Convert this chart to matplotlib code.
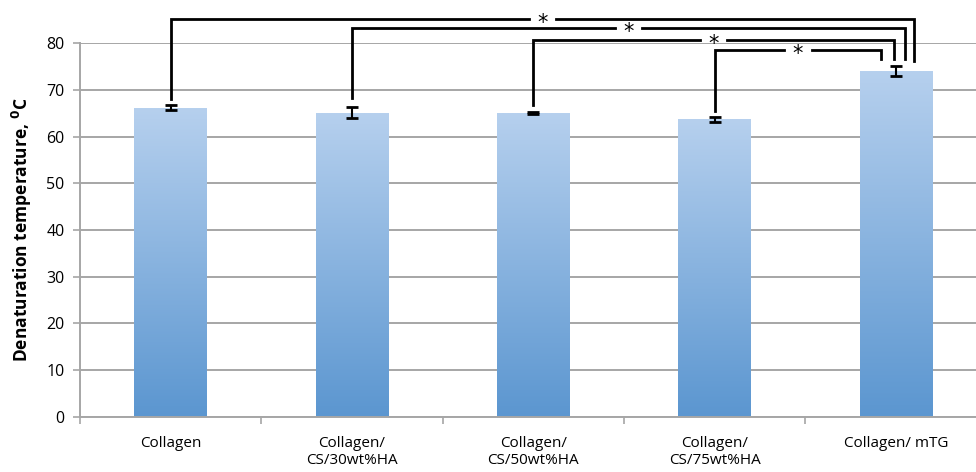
import numpy as np
import matplotlib.pyplot as plt
from matplotlib.colors import LinearSegmentedColormap

plt.rcParams['font.family'] = ['Open Sans', 'DejaVu Sans']

categories = ["Collagen", "Collagen/\nCS/30wt%HA", "Collagen/\nCS/50wt%HA",
              "Collagen/\nCS/75wt%HA", "Collagen/ mTG"]
means = [66.2, 65.1, 65.1, 63.7, 74.1]
errors = [0.5, 1.2, 0.2, 0.6, 1.1]
y_ticks = [0, 10, 20, 30, 40, 50, 60, 70, 80]

# significance brackets: (left group, right group, bracket height, left leg bottom, right leg bottom)
brackets = [
    (0, 4, 85.2, 68.0, 76.3),
    (1, 4, 83.2, 68.2, 76.6),
    (2, 4, 80.6, 66.8, 76.6),
    (3, 4, 78.6, 65.6, 76.6),
]
right_offsets = [0.10, 0.05, -0.01, -0.08]
star_gap = 0.075

fig = plt.figure(figsize=(9.76, 4.72), dpi=100)
ax = fig.add_axes([80 / 976, 1 - 416.7 / 472, 906.5 / 976, (416.7 - 43.3) / 472])

x = np.arange(len(categories))
width = 0.4
cmap = LinearSegmentedColormap.from_list("bluegrad", ["#5b96d0", "#b6d0ee"])
grad = np.linspace(0, 1, 256).reshape(-1, 1)

bars = ax.bar(x, means, width=width, color="none", zorder=2)
for b in bars:
    x0, y0 = b.get_x(), b.get_y()
    w, h = b.get_width(), b.get_height()
    im = ax.imshow(grad, extent=[x0, x0 + w, y0, y0 + h], origin="lower",
                   cmap=cmap, aspect="auto", zorder=2)
    im.set_clip_path(b)

ax.errorbar(x, means, yerr=errors, fmt="none", ecolor="black",
            elinewidth=1.5, capsize=4, capthick=2, zorder=3)

ax.set_xlim(-0.5, len(categories) - 0.5)
ax.set_ylim(0, 80)
ax.set_yticks(y_ticks)
ax.yaxis.grid(True, color="#a6a6a6", linewidth=1.4)
ax.set_axisbelow(True)

ax.set_xticks(x)
ax.set_xticklabels(categories, fontsize=11, linespacing=1.2)
ax.set_xticks(np.arange(-0.5, len(categories), 1), minor=True)
ax.tick_params(axis="x", which="major", length=0, pad=14)
ax.tick_params(axis="x", which="minor", length=5, color="#a6a6a6", width=1.2)
ax.tick_params(axis="y", length=5, color="#a6a6a6", width=1.2, labelsize=11.5, pad=6)

for s in ["top", "right"]:
    ax.spines[s].set_visible(False)
for s in ["left", "bottom"]:
    ax.spines[s].set_color("#a6a6a6")
    ax.spines[s].set_linewidth(1.4)

ax.set_ylabel(r"Denaturation temperature, $^{\mathbf{0}}$C", fontsize=12.5,
              fontweight="bold", labelpad=9)

for (i, j, h, lb, rb), off in zip(brackets, right_offsets):
    xl, xr = x[i], x[j] + off
    xm = (xl + xr) / 2
    ax.plot([xl, xl, xm - star_gap], [lb, h, h], color="black", lw=2,
            clip_on=False, zorder=4, solid_joinstyle="miter")
    ax.plot([xm + star_gap, xr, xr], [h, h, rb], color="black", lw=2,
            clip_on=False, zorder=4, solid_joinstyle="miter")
    ax.text(xm, h - 0.8, "*", ha="center", va="center", fontsize=15,
            family="DejaVu Sans", clip_on=False, zorder=5)

fig.savefig("out.png", dpi=100)
